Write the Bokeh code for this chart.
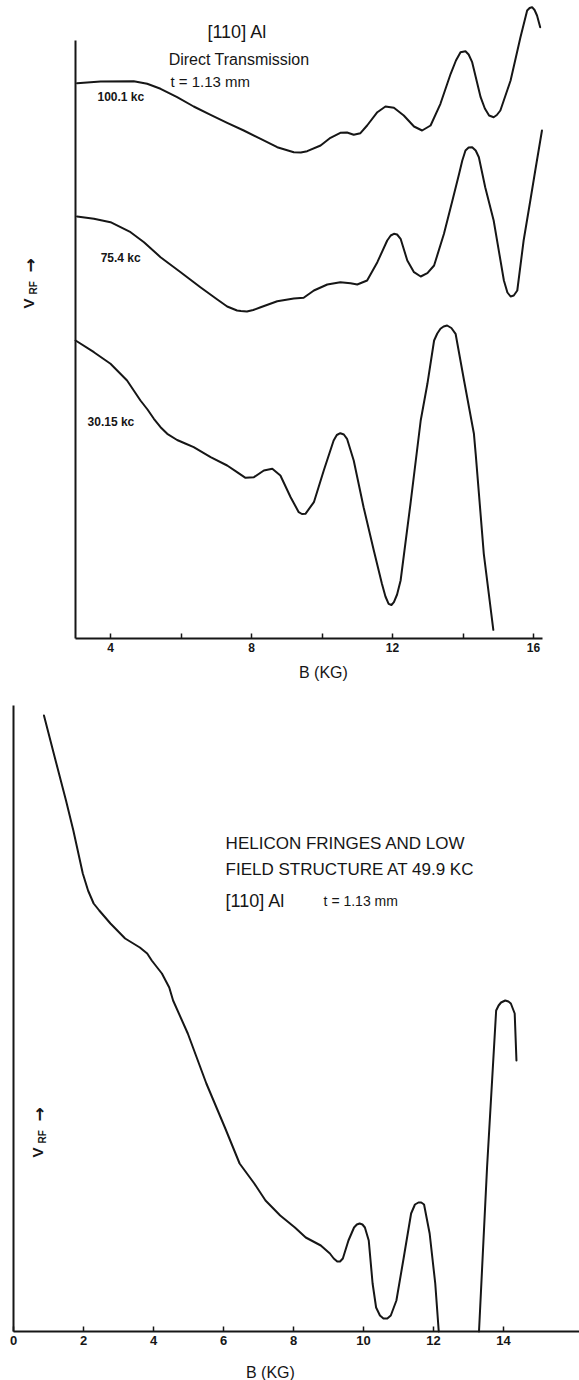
import math

from bokeh.embed import file_html
from bokeh.layouts import column
from bokeh.models import FixedTicker, Label, Range1d
from bokeh.plotting import figure
from bokeh.resources import INLINE

# ---------------------------------------------------------------------------
# Direct transmission through [110] Al, t = 1.13 mm.  B in kG, V_RF in
# arbitrary units (same scale for the three traces, offset vertically).
# ---------------------------------------------------------------------------
b_100 = [3.05, 3.72, 4.66, 5.04, 5.42, 5.89, 6.36, 6.84, 7.31, 7.78, 8.26, 8.73,
         9.20, 9.40, 9.58, 9.96, 10.24, 10.52, 10.71, 10.90, 11.09, 11.28, 11.57,
         11.80, 12.04, 12.32, 12.61, 12.84, 13.08, 13.36, 13.65, 13.80, 13.93,
         14.07, 14.16, 14.26, 14.50, 14.62, 14.74, 14.87, 14.96, 15.06, 15.35,
         15.63, 15.82, 15.89, 15.96, 16.03, 16.10, 16.19]
v_100 = [555.3, 557.0, 557.3, 554.7, 549.7, 541.3, 532.0, 523.7, 515.7, 508.0,
         499.7, 491.3, 486.3, 486.0, 487.3, 493.0, 500.7, 505.7, 506.0, 503.7,
         505.3, 513.0, 526.3, 532.0, 530.7, 523.0, 512.0, 508.0, 513.0, 534.7,
         564.7, 578.0, 586.3, 587.3, 584.0, 576.3, 541.3, 530.0, 523.0, 521.3,
         523.5, 528.0, 558.0, 601.3, 628.0, 630.5, 631.3, 628.5, 623.0, 611.3]

b_75 = [3.05, 3.53, 4.00, 4.57, 4.95, 5.42, 5.99, 6.55, 7.03, 7.31, 7.59, 7.70,
        7.87, 8.05, 8.26, 8.73, 9.20, 9.48, 9.77, 10.15, 10.52, 10.81, 11.00,
        11.28, 11.57, 11.85, 11.95, 12.04, 12.13, 12.23, 12.42, 12.61, 12.80,
        12.99, 13.18, 13.46, 13.70, 13.89, 13.98, 14.07, 14.16, 14.26, 14.36,
        14.45, 14.63, 14.87, 15.16, 15.26, 15.35, 15.44, 15.54, 15.72, 15.91,
        16.05, 16.24]
v_75 = [422.0, 419.7, 416.3, 406.3, 396.3, 381.3, 366.3, 351.3, 339.0, 332.0,
        328.0, 327.5, 327.0, 328.5, 331.3, 337.3, 340.0, 340.7, 348.0, 354.0,
        356.3, 355.3, 354.0, 358.0, 376.3, 398.0, 403.0, 404.7, 404.0, 399.7,
        378.0, 366.3, 362.0, 365.3, 373.0, 404.7, 438.0, 464.7, 478.0, 488.0,
        491.0, 491.3, 488.0, 481.3, 451.3, 418.0, 358.0, 346.0, 342.0, 343.0,
        348.0, 398.0, 438.0, 468.0, 508.0]

b_30 = [3.01, 3.53, 4.00, 4.47, 4.85, 5.05, 5.23, 5.42, 5.61, 5.89, 6.12, 6.36,
        6.84, 7.31, 7.59, 7.83, 8.07, 8.35, 8.59, 8.82, 9.11, 9.34, 9.43, 9.53,
        9.77, 10.05, 10.33, 10.42, 10.52, 10.62, 10.71, 10.90, 11.18, 11.47,
        11.70, 11.80, 11.89, 11.97, 12.04, 12.13, 12.23, 12.51, 12.80, 12.99,
        13.18, 13.27, 13.36, 13.45, 13.55, 13.67, 13.79, 14.03, 14.31, 14.36,
        14.59, 14.86]
v_30 = [298.0, 286.3, 274.7, 258.0, 238.0, 229.0, 219.7, 211.3, 204.7, 198.5,
        195.0, 191.3, 181.3, 173.0, 166.3, 160.7, 161.3, 168.0, 169.7, 163.0,
        141.3, 126.3, 124.5, 124.7, 136.3, 168.0, 198.0, 203.5, 205.3, 204.0,
        199.7, 178.0, 131.3, 88.0, 54.7, 42.0, 34.7, 33.5, 36.3, 44.0, 58.0,
        134.7, 218.0, 254.7, 298.0, 305.0, 309.7, 312.0, 313.0, 310.5, 304.7,
        258.0, 204.7, 184.7, 84.7, 8.7]

trace_names = ["100.1 kc", "75.4 kc", "30.15 kc"]
trace_label_b = [3.63, 3.72, 3.35]
trace_label_v = [542, 381, 217]

top_ticks = [4, 6, 8, 10, 12, 14, 16]
top_tick_labels = ["4", "", "8", "", "12", "", "16"]

# ---------------------------------------------------------------------------
# Helicon fringes and low-field structure at 49.9 kc.  The trace runs off
# scale between about 12.2 and 13.3 kG, so it is kept as two pieces.
# ---------------------------------------------------------------------------
b_49_low = [0.87, 1.18, 1.50, 1.71, 1.98, 2.13, 2.29, 2.45, 2.77, 3.19, 3.61,
            3.82, 3.95, 4.24, 4.45, 4.56, 4.98, 5.51, 6.04, 6.46, 6.88, 7.20,
            7.62, 8.04, 8.35, 8.78, 9.04, 9.15, 9.25, 9.33, 9.41, 9.57, 9.73,
            9.81, 9.89, 9.97, 10.04, 10.15, 10.26, 10.36, 10.47, 10.57, 10.68,
            10.78, 10.94, 11.15, 11.36, 11.47, 11.57, 11.65, 11.73, 11.89, 12.05,
            12.15]
v_49_low = [616, 574, 531, 501, 458, 441, 428, 421, 408, 393, 384, 378, 371,
            358, 344, 331, 298, 248, 204, 168, 148, 131, 116, 104, 94, 86, 78,
            73, 70, 70, 73, 91, 104, 107, 108, 107, 104, 91, 48, 24, 16, 13, 13,
            16, 31, 74, 118, 127, 129, 129, 127, 98, 48, 0]
b_49_high = [13.30, 13.53, 13.79, 13.86, 13.93, 14.05, 14.14, 14.21, 14.32, 14.37]
v_49_high = [0, 164, 321, 326, 329, 331, 330, 328, 318, 271]

bottom_ticks = [0, 2, 4, 6, 8, 10, 12, 14]
bottom_tick_labels = ["0", "2", "4", "6", "8", "10", "12", "14"]

FONT = "Liberation Sans"
INK = "#161616"
W = 579
H = 690


def base_figure(x_range, y_range):
    # the frame fills the whole canvas; axes sit at fixed data locations
    p = figure(width=W, height=H, x_range=x_range, y_range=y_range,
               output_backend="svg", toolbar_location=None, tools="",
               min_border_left=0, min_border_right=0,
               min_border_top=0, min_border_bottom=0)
    p.outline_line_color = None
    p.background_fill_color = "white"
    p.border_fill_color = "white"
    p.xgrid.visible = False
    p.ygrid.visible = False
    return p


def style_axes(p, ticks, labels, x_axis_at, x_bounds, y_axis_at, y_bounds,
               label_size):
    xa = p.xaxis[0]
    xa.fixed_location = x_axis_at
    xa.bounds = x_bounds
    xa.ticker = FixedTicker(ticks=ticks, minor_ticks=[])
    xa.major_label_overrides = {t: lab for t, lab in zip(ticks, labels)}
    xa.major_tick_in = 5
    xa.major_tick_out = 0
    xa.minor_tick_in = 0
    xa.minor_tick_out = 0
    xa.major_tick_line_width = 1.5
    xa.major_tick_line_color = INK
    xa.axis_line_width = 2
    xa.axis_line_color = INK
    xa.major_label_standoff = 4
    xa.major_label_text_font = FONT
    xa.major_label_text_font_size = label_size
    xa.major_label_text_font_style = "bold"
    xa.major_label_text_color = INK

    ya = p.yaxis[0]
    ya.fixed_location = y_axis_at
    ya.bounds = y_bounds
    ya.ticker = FixedTicker(ticks=[], minor_ticks=[])
    ya.major_tick_in = 0
    ya.major_tick_out = 0
    ya.minor_tick_in = 0
    ya.minor_tick_out = 0
    ya.major_label_text_font_size = "0px"
    ya.axis_line_width = 2
    ya.axis_line_color = INK


def add_text(p, x, y, text, size, style="normal", align="left", angle=0.0,
             font=FONT):
    p.add_layout(Label(x=x, y=y, text=text, text_font=font,
                       text_font_size=size, text_font_style=style,
                       text_color=INK, text_align=align,
                       text_baseline="middle", angle=angle))


def add_vrf(p, x_v, x_sub, x_arrow, y_v, y_sub, y_arrow):
    # rotated "V_RF ->" reading upward, so the arrow points up the axis
    up = math.pi / 2
    add_text(p, x_v, y_v, "V", "15px", "bold", angle=up)
    add_text(p, x_sub, y_sub, "RF", "10px", "bold", angle=up)
    add_text(p, x_arrow, y_arrow, "\u2192", "17px", "bold", angle=up,
             font="DejaVu Sans")


def trace(p, bs, vs):
    p.line(bs, vs, line_color=INK, line_width=2.0, line_join="round",
           line_cap="round")


# ---------------------------- upper panel ----------------------------------
# 35.25 px per kG, 4 kG at x = 110 px; V = 0 at y = 638 px
kx = 35.25
top = base_figure(Range1d(4 - 110 / kx, 4 + (W - 110) / kx),
                  Range1d(-(H - 638), 638))
style_axes(top, top_ticks, top_tick_labels, 0, (3.0, 16.25), 3.0, (0, 598),
           "12px")

for bs, vs in [(b_100, v_100), (b_75, v_75), (b_30, v_30)]:
    trace(top, bs, vs)

for name, bx, vy in zip(trace_names, trace_label_b, trace_label_v):
    add_text(top, bx, vy, name, "12px", "bold")

add_text(top, 6.75, 607, "[110] Al", "18px")
add_text(top, 5.65, 579, "Direct Transmission", "16px")
add_text(top, 5.70, 557, "t = 1.13 mm", "15px")
add_text(top, 10.04, -34, "B (KG)", "16px", align="center")


def top_x(px):
    return 4 + (px - 110) / kx


add_vrf(top, top_x(28), top_x(33), top_x(29), 638 - 308, 638 - 294, 638 - 272)

# ---------------------------- lower panel ----------------------------------
# 35 px per kG, 0 kG at x = 13 px; V = 0 at page y = 1331 px
kb = 35.0
bot = base_figure(Range1d(-13 / kb, (W - 13) / kb), Range1d(-49, H - 49))
style_axes(bot, bottom_ticks, bottom_tick_labels, 0, (0, (W - 13) / kb), 0,
           (0, 626), "13px")

trace(bot, b_49_low, v_49_low)
trace(bot, b_49_high, v_49_high)

add_text(bot, 6.06, 488, "HELICON FRINGES AND LOW", "17px")
add_text(bot, 6.06, 462, "FIELD STRUCTURE AT 49.9 KC", "17px")
add_text(bot, 6.06, 431, "[110] Al", "18px")
add_text(bot, 8.86, 431, "t = 1.13 mm", "14px")
add_text(bot, 7.34, -41, "B (KG)", "16px", align="center")


def bot_x(px):
    return (px - 13) / kb


add_vrf(bot, bot_x(37), bot_x(42), bot_x(38), 1331 - 1157, 1331 - 1143,
        1331 - 1121)

page = column(top, bot, spacing=0)
open("out.html", "w").write(file_html(page, INLINE))
